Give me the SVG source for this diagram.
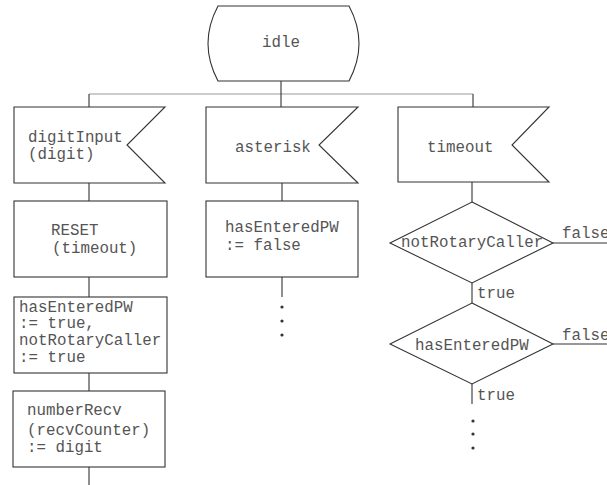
<svg xmlns="http://www.w3.org/2000/svg" width="607" height="485" viewBox="0 0 607 485">
<style>
.s{fill:#fff;stroke:#333;stroke-width:1.1}
.c{fill:none;stroke:#333;stroke-width:1.1}
.g{fill:none;stroke:#999;stroke-width:1.2}
text{font-family:"Liberation Mono","Courier New",monospace;font-size:15.8px;fill:#555}
.d{fill:#333}
</style>
<rect width="607" height="485" fill="#fff"/>
<g id="connectors">
<line class="g" x1="89" y1="94" x2="473" y2="94"/>
<line class="c" x1="281" y1="81" x2="281" y2="107"/>
<line class="c" x1="89" y1="94" x2="89" y2="107"/>
<line class="c" x1="473" y1="94" x2="473" y2="107"/>
<line class="c" x1="89" y1="183" x2="89" y2="201"/>
<line class="c" x1="89" y1="277" x2="89" y2="297"/>
<line class="c" x1="89" y1="373" x2="89" y2="391"/>
<line class="c" x1="89" y1="467" x2="89" y2="485"/>
<line class="c" x1="282" y1="183" x2="282" y2="201"/>
<line class="c" x1="282" y1="277" x2="282" y2="297"/>
<line class="c" x1="472" y1="182" x2="472" y2="202"/>
<line class="c" x1="472" y1="283" x2="472" y2="303"/>
<line class="c" x1="472" y1="384" x2="472" y2="404"/>
<line class="c" x1="553" y1="243" x2="607" y2="243"/>
<line class="c" x1="553" y1="344" x2="607" y2="344"/>
<text x="562" y="238">false</text>
<text x="562" y="340">false</text>
<text x="477" y="298">true</text>
<text x="477" y="400">true</text>
<circle class="d" cx="282" cy="307" r="1.6"/>
<circle class="d" cx="282" cy="321" r="1.6"/>
<circle class="d" cx="282" cy="335" r="1.6"/>
<circle class="d" cx="473" cy="421" r="1.6"/>
<circle class="d" cx="473" cy="434" r="1.6"/>
<circle class="d" cx="473" cy="448" r="1.6"/>
</g>
<g id="idle">
<path class="s" d="M218,6 L349,6 Q369,43.5 349,81 L218,81 Q198,43.5 218,6 Z"/>
<text x="262" y="47">idle</text>
</g>
<g id="digitInput">
<polygon class="s" points="14,107 165,107 127,145 165,183 14,183"/>
<text x="28" y="142">digitInput</text>
<text x="28" y="159">(digit)</text>
</g>
<g id="asterisk">
<polygon class="s" points="206,107 358,107 319,145 358,183 206,183"/>
<text x="235" y="152">asterisk</text>
</g>
<g id="timeout">
<polygon class="s" points="398,107 549,107 512,145 549,182 398,182"/>
<text x="427" y="152">timeout</text>
</g>
<g id="reset">
<rect class="s" x="14" y="201" width="153" height="76"/>
<text x="51" y="235">RESET</text>
<text x="52" y="253">(timeout)</text>
</g>
<g id="setTrue">
<rect class="s" x="14" y="297" width="153" height="76"/>
<text x="19" y="312">hasEnteredPW</text>
<text x="19" y="328">:= true,</text>
<text x="19" y="345">notRotaryCaller</text>
<text x="19" y="362">:= true</text>
</g>
<g id="numberRecv">
<rect class="s" x="13" y="391" width="152" height="76"/>
<text x="27" y="415">numberRecv</text>
<text x="27" y="435">(recvCounter)</text>
<text x="27" y="452">:= digit</text>
</g>
<g id="setFalse">
<rect class="s" x="206" y="201" width="152" height="76"/>
<text x="225" y="232">hasEnteredPW</text>
<text x="225" y="250">:= false</text>
</g>
<g id="decisionRotary">
<polygon class="s" points="472,202 553,243 472,283 390,243"/>
<text x="401" y="247">notRotaryCaller</text>
</g>
<g id="decisionPW">
<polygon class="s" points="472,303 553,344 472,384 390,344"/>
<text x="415" y="350">hasEnteredPW</text>
</g>
</svg>
